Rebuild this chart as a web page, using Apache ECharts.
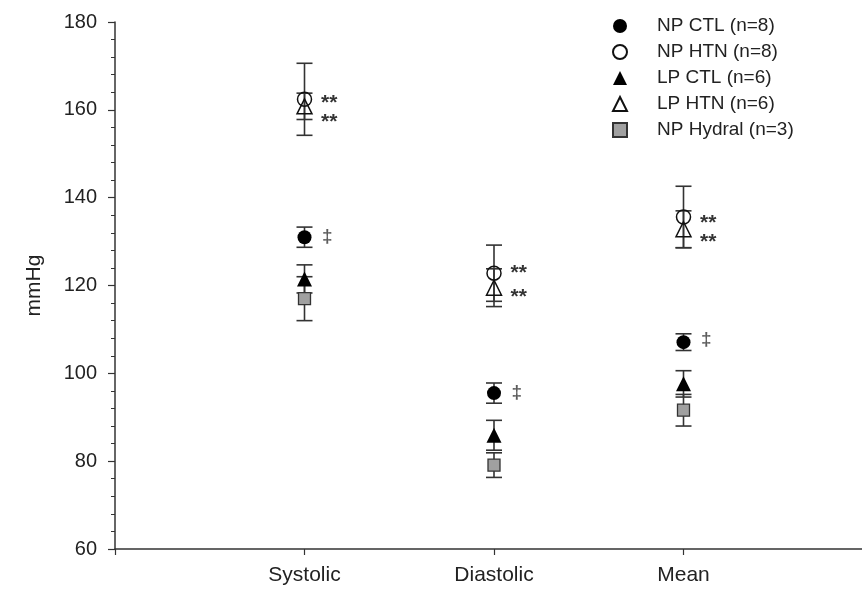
<!DOCTYPE html>
<html>
<head>
<meta charset="utf-8">
<script src="https://cdn.jsdelivr.net/npm/echarts@6/dist/echarts.min.js"></script>
<style>
html,body{margin:0;padding:0;background:#fff;}
#chart{width:862px;height:589px;}
</style>
</head>
<body>
<div id="chart"></div>
<script>
// ---- data ----
const categories = ['Systolic', 'Diastolic', 'Mean'];
const seriesNames = ['NP CTL (n=8)', 'NP HTN (n=8)', 'LP CTL (n=6)', 'LP HTN (n=6)', 'NP Hydral (n=3)'];
const npCtlMean = [131.0, 95.5, 107.1];
const npCtlErr = [2.3, 2.3, 1.9];
const npHtnMean = [162.4, 122.8, 135.6];
const npHtnErr = [8.2, 6.4, 7.0];
const lpCtlMean = [121.5, 85.9, 97.6];
const lpCtlErr = [3.2, 3.4, 3.0];
const lpHtnMean = [160.8, 119.5, 132.8];
const lpHtnErr = [3.0, 4.3, 4.2];
const hydralMean = [117.0, 79.1, 91.6];
const hydralErr = [5.0, 2.8, 3.6];
// significance annotations: category index, y level, text
const annoCategory = [0, 0, 1, 1, 2, 2, 0, 1, 2];
const annoValue = [162.7, 158.4, 124.0, 118.5, 135.4, 131.0, 131.0, 95.5, 107.6];
const annoText = ['**', '**', '**', '**', '**', '**', '‡', '‡', '‡'];
const yTicks = [60, 80, 100, 120, 140, 160, 180];

// ---- build ----
const FONT = '"Liberation Sans", Arial, Helvetica, sans-serif';
const means = [npCtlMean, npHtnMean, lpCtlMean, lpHtnMean, hydralMean];
const errs = [npCtlErr, npHtnErr, lpCtlErr, lpHtnErr, hydralErr];
const symbols = ['circle', 'circle', 'triangle', 'triangle', 'rect'];
const sizes = [14, 14, 15, 15, 12];
const styles = [
  {color: '#000', opacity: 1},
  {color: 'rgba(255,255,255,0)', borderColor: '#111', borderWidth: 1.5, opacity: 1},
  {color: '#000', opacity: 1},
  {color: 'rgba(255,255,255,0)', borderColor: '#111', borderWidth: 1.5, opacity: 1},
  {color: '#a0a0a0', borderColor: '#333', borderWidth: 1.3, opacity: 1}
];

const errData = [];
means.forEach((m, s) => {
  m.forEach((v, i) => errData.push([i + 1, v - errs[s][i], v + errs[s][i]]));
});

const series = [{
  type: 'custom',
  name: 'err',
  z: 1,
  silent: true,
  data: errData,
  renderItem: function (params, api) {
    const x = api.value(0);
    const lo = api.coord([x, api.value(1)]);
    const hi = api.coord([x, api.value(2)]);
    const hw = 8;
    const st = {stroke: '#333', lineWidth: 1.6};
    return {
      type: 'group',
      children: [
        {type: 'line', shape: {x1: lo[0], y1: lo[1], x2: hi[0], y2: hi[1]}, style: st},
        {type: 'line', shape: {x1: lo[0] - hw, y1: lo[1], x2: lo[0] + hw, y2: lo[1]}, style: st},
        {type: 'line', shape: {x1: hi[0] - hw, y1: hi[1], x2: hi[0] + hw, y2: hi[1]}, style: st}
      ]
    };
  }
}];

means.forEach((m, s) => {
  series.push({
    type: 'scatter',
    name: seriesNames[s],
    z: 3,
    symbol: symbols[s],
    symbolSize: sizes[s],
    itemStyle: styles[s],
    data: m.map((v, i) => [i + 1, v])
  });
});

series.push({
  type: 'scatter',
  name: 'anno',
  z: 4,
  silent: true,
  symbolSize: 1,
  itemStyle: {color: 'rgba(0,0,0,0)'},
  data: annoText.map((t, k) => ({
    value: [annoCategory[k] + 1, annoValue[k]],
    label: {
      show: true,
      position: 'right',
      formatter: t,
      offset: t === '**' ? [11, 5] : [12, 0],
      fontSize: t === '**' ? 21 : 19,
      fontWeight: 'bold',
      color: t === '**' ? '#000' : '#333',
      fontFamily: FONT
    }
  }))
});

const option = {
  animation: false,
  backgroundColor: '#fff',
  textStyle: {fontFamily: FONT},
  grid: {left: 115, width: 758, top: 22, bottom: 40, containLabel: false, outerBoundsMode: 'none'},
  legend: {
    orient: 'vertical',
    left: 607,
    top: 11,
    itemWidth: 14,
    itemHeight: 14,
    itemGap: 6,
    data: seriesNames.map((n, s) => ({name: n, icon: symbols[s]})),
    textStyle: {fontSize: 19, lineHeight: 20, color: '#222', fontFamily: FONT, padding: [0, 0, 0, 25]}
  },
  xAxis: {
    type: 'value',
    min: 0,
    max: 4,
    interval: 1,
    splitLine: {show: false},
    axisLine: {onZero: false, lineStyle: {color: '#333', width: 1.5}},
    axisTick: {show: true, length: 6, lineStyle: {color: '#333', width: 1.2}},
    axisLabel: {
      margin: 16,
      fontSize: 21,
      color: '#222',
      fontFamily: FONT,
      formatter: function (v) { return Number.isInteger(v) && v >= 1 && v <= categories.length ? categories[v - 1] : ''; }
    }
  },
  yAxis: {
    type: 'value',
    min: yTicks[0],
    max: yTicks[yTicks.length - 1],
    interval: yTicks[1] - yTicks[0],
    name: 'mmHg',
    nameLocation: 'middle',
    nameGap: 70,
    nameTextStyle: {fontSize: 21, color: '#222', fontFamily: FONT},
    splitLine: {show: false},
    axisLine: {show: true, lineStyle: {color: '#333', width: 1.5}},
    axisTick: {show: true, length: 7, lineStyle: {color: '#333', width: 1.2}},
    minorTick: {show: true, splitNumber: 5, length: 4, lineStyle: {color: '#333', width: 1}},
    axisLabel: {margin: 18, fontSize: 20, color: '#222', fontFamily: FONT}
  },
  series: series
};

const chart = echarts.init(document.getElementById('chart'), null, {renderer: 'canvas'});
chart.setOption(option);
</script>
</body>
</html>
